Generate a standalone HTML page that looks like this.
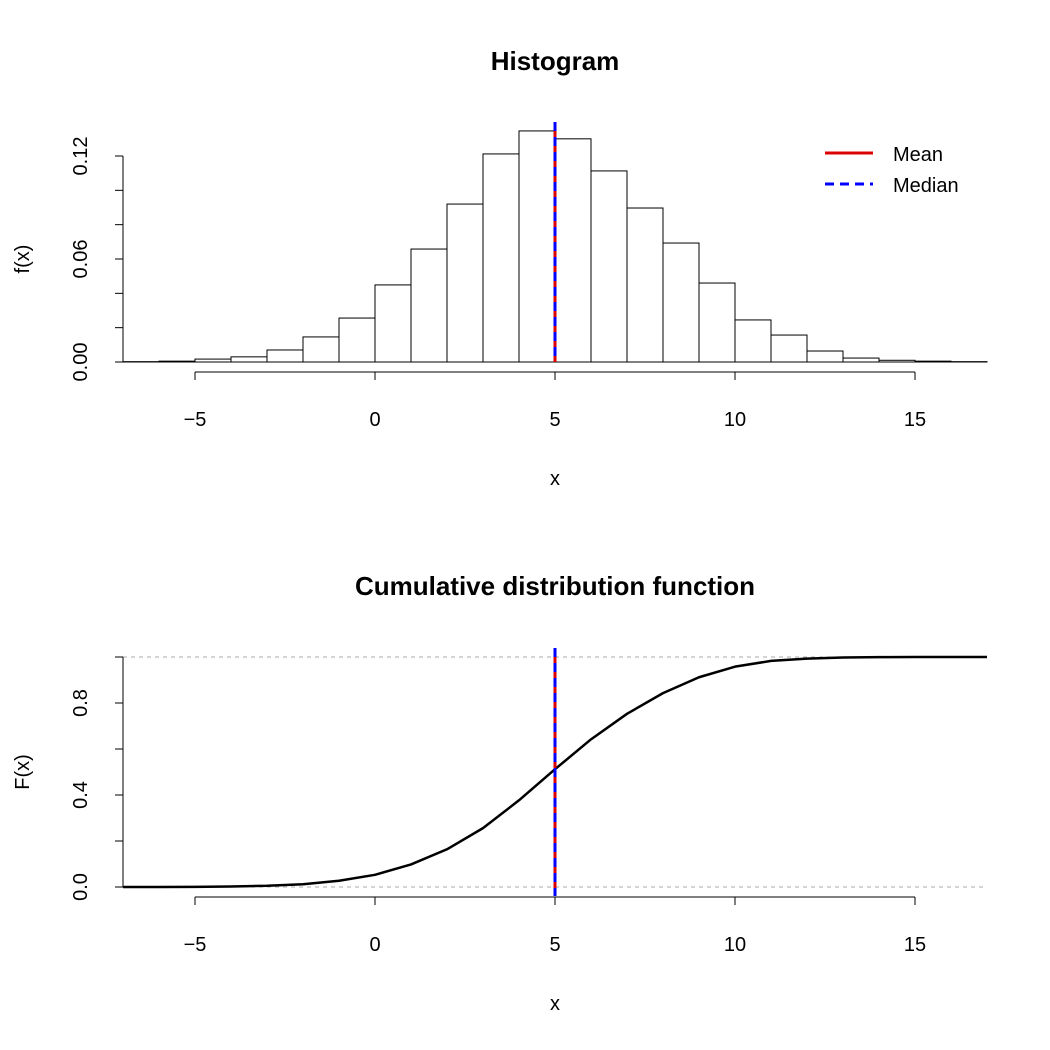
<!DOCTYPE html>
<html><head><meta charset="utf-8"><style>
body{margin:0;background:#fff}
svg{display:block;font-family:"Liberation Sans",Arial,sans-serif}
</style></head><body>
<svg id="c" width="1050" height="1050" viewBox="0 0 1050 1050"></svg>
<script>
const binStarts=[-7,-6,-5,-4,-3,-2,-1,0,1,2,3,4,5,6,7,8,9,10,11,12,13,14,15,16];
const density=[0.0002,0.0005,0.0017,0.003,0.007,0.0146,0.0256,0.0449,0.0658,0.092,0.1212,0.1346,0.130,0.1113,0.0897,0.0693,0.046,0.0245,0.0157,0.0064,0.0023,0.001,0.0005,0.0002];
const cdfX=[-7,-6,-5,-4,-3,-2,-1,0,1,2,3,4,5,6,7,8,9,10,11,12,13,14,15,16,17];
const cdfY=[0,0.0002,0.0007,0.0024,0.0054,0.012,0.027,0.053,0.098,0.164,0.256,0.377,0.512,0.642,0.753,0.843,0.912,0.958,0.983,0.993,0.998,0.9995,0.9998,1,1];
const xTicks=[-5,0,5,10,15];
const yTicksTop=[0,0.02,0.04,0.06,0.08,0.10,0.12];
const yLabelsTop=["0.00","","","0.06","","","0.12"];
const yTicksBot=[0,0.2,0.4,0.6,0.8,1.0];
const yLabelsBot=["0.0","","0.4","","0.8",""];
const meanVal=5, medianVal=5;

const svg=document.getElementById('c');
const NS='http://www.w3.org/2000/svg';
function mk(tag,attrs,parent){const e=document.createElementNS(NS,tag);for(const k in attrs)e.setAttribute(k,attrs[k]);(parent||svg).appendChild(e);return e;}
const sx=v=>375+36*v;
const syTop=v=>362-v*1716.7;
const syBot=v=>887-v*230;

function axes(g,sy,yt,yl,yaxisY,xAxisY,yTitle,title,titleY){
  let t=mk('text',{x:555,y:titleY,'text-anchor':'middle','font-size':26,'font-weight':'bold'},g);t.textContent=title;
  
  mk('line',{x1:sx(xTicks[0]),x2:sx(xTicks[xTicks.length-1]),y1:xAxisY,y2:xAxisY,stroke:'#000'},g);
  xTicks.forEach(v=>{mk('line',{x1:sx(v),x2:sx(v),y1:xAxisY,y2:xAxisY+8,stroke:'#000'},g);
    const l=mk('text',{x:sx(v),y:xAxisY+54,'text-anchor':'middle','font-size':20},g);l.textContent=(v<0?'\u2212'+(-v):v);
    });
  mk('line',{x1:123,x2:123,y1:sy(yt[0]),y2:sy(yt[yt.length-1]),stroke:'#000'},g);
  yt.forEach((v,i)=>{mk('line',{x1:115,x2:123,y1:sy(v),y2:sy(v),stroke:'#000'},g);
    if(yl[i]){const l=mk('text',{x:0,y:0,'text-anchor':'middle','font-size':20,transform:`translate(87,${sy(v)}) rotate(-90)`},g);l.textContent=yl[i];
    }});
  const xt=mk('text',{x:555,y:xAxisY+113,'text-anchor':'middle','font-size':20},g);xt.textContent='x';
  
  const ytt=mk('text',{x:0,y:0,'text-anchor':'middle','font-size':20,transform:`translate(29,${yaxisY}) rotate(-90)`},g);ytt.textContent=yTitle;
  
}

// top
const g1=mk('g',{});
binStarts.forEach((b,i)=>{const r=mk('rect',{x:sx(b),y:syTop(density[i]),width:36,height:362-syTop(density[i]),fill:'#fff',stroke:'#000','stroke-width':1},g1);
  });
mk('line',{x1:123,x2:987,y1:362,y2:362,stroke:'#000'},g1);
axes(g1,syTop,yTicksTop,yLabelsTop,259,372,'f(x)','Histogram',70);
let m=mk('line',{x1:sx(meanVal),x2:sx(meanVal),y1:122,y2:362,stroke:'#d00',"stroke-width":3},g1);

m=mk('line',{x1:sx(medianVal),x2:sx(medianVal),y1:122,y2:362,stroke:'#00f',"stroke-width":3,'stroke-dasharray':'9 6'},g1);

const lg=mk('g',{},g1);
mk('line',{x1:825,x2:873,y1:153,y2:153,stroke:'#d00','stroke-width':3},lg);
mk('line',{x1:825,x2:873,y1:184,y2:184,stroke:'#00f','stroke-width':3,'stroke-dasharray':'9 6'},lg);
let t=mk('text',{x:893,y:161,'font-size':20},lg);t.textContent='Mean';
t=mk('text',{x:893,y:192,'font-size':20},lg);t.textContent='Median';

// bottom
const g2=mk('g',{});
[0,1].forEach(v=>mk('line',{x1:123,x2:987,y1:syBot(v),y2:syBot(v),stroke:'#aaa','stroke-dasharray':'4 4'},g2));
axes(g2,syBot,yTicksBot,yLabelsBot,772,897,'F(x)','Cumulative distribution function',595);
const pts=cdfX.map((x,i)=>sx(x)+','+syBot(cdfY[i])).join(' ');
const pl=mk('polyline',{points:pts,fill:'none',stroke:'#000','stroke-width':2.5,'stroke-linejoin':'round'},g2);

m=mk('line',{x1:sx(meanVal),x2:sx(meanVal),y1:648,y2:896,stroke:'#d00',"stroke-width":3},g2);

m=mk('line',{x1:sx(medianVal),x2:sx(medianVal),y1:648,y2:896,stroke:'#00f',"stroke-width":3,'stroke-dasharray':'9 6'},g2);

</script>
</body></html>
